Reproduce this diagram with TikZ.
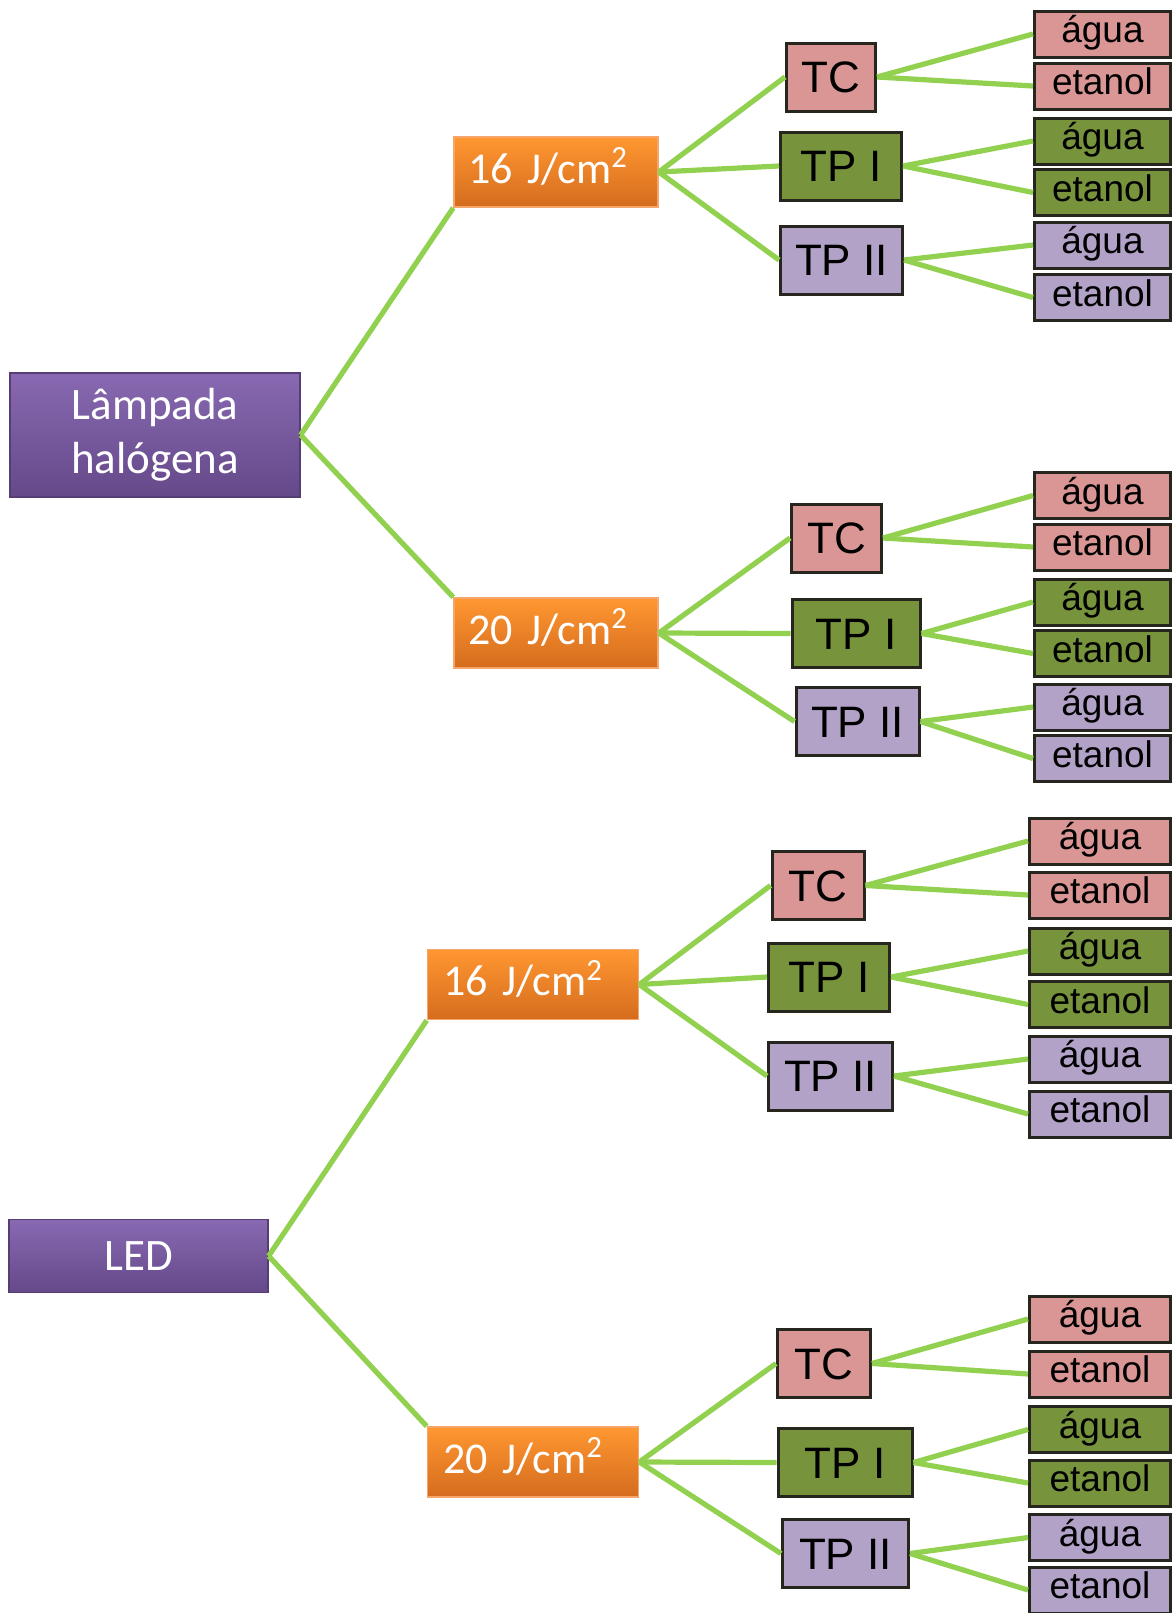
\documentclass[tikz,border=0pt]{standalone}
\usepackage{fontspec}
\setmainfont{Liberation Sans}
\newfontfamily\carlito{Carlito}
\usepackage{xcolor}
\usepackage{tikz}
\usetikzlibrary{positioning}
\definecolor{purpletop}{HTML}{8869B2}
\definecolor{purplebot}{HTML}{654989}
\definecolor{orangetop}{HTML}{FF9731}
\definecolor{orangebot}{HTML}{D56C1E}
\definecolor{orangeedge}{HTML}{F6A66A}
\definecolor{linkgreen}{HTML}{92D050}
\definecolor{boxedge}{HTML}{26261F}
\definecolor{tcpink}{HTML}{D99694}
\definecolor{tpgreen}{HTML}{77933C}
\definecolor{tplilac}{HTML}{B3A2C7}
\tikzstyle{link} = [draw=linkgreen, line width=2.6pt]
\tikzstyle{rootbox} = [rectangle, top color=purpletop, bottom color=purplebot,
draw=purplebot!85!black, line width=0.6pt, text=white, align=center, inner sep=0pt,
font=\carlito\fontsize{22.5}{27}\selectfont]
\tikzstyle{dosebox} = [rectangle, top color=orangetop, bottom color=orangebot,
draw=orangeedge, line width=0.8pt, text=white, inner sep=0pt, align=left,
minimum width=102pt, minimum height=35pt, text width=88pt, text height=13pt, text depth=2pt,
font=\carlito\fontsize{22}{25}\selectfont]
\tikzstyle{midbox} = [rectangle, draw=boxedge, line width=1.5pt, inner sep=0pt,
minimum height=34pt, text height=16.5pt, text depth=1pt, font=\fontsize{22}{26}\selectfont]
\tikzstyle{leafbox} = [rectangle, draw=boxedge, line width=1.5pt, inner sep=0pt,
minimum width=68pt, minimum height=23pt, text height=12.5pt, text depth=4pt,
font=\fontsize{18.5}{22}\selectfont]
\tikzstyle{tcbox} = [midbox, fill=tcpink]
\tikzstyle{tpibox} = [midbox, fill=tpgreen]
\tikzstyle{tpiibox} = [midbox, fill=tplilac]
\tikzstyle{tcleaf} = [leafbox, fill=tcpink]
\tikzstyle{tpileaf} = [leafbox, fill=tpgreen]
\tikzstyle{tpiileaf} = [leafbox, fill=tplilac]

\begin{document}
\begin{tikzpicture}[x=0.5pt, y=-0.5pt]
        \useasboundingbox (0,0) rectangle (1172,1613);

        \node[rootbox, minimum width=145pt, minimum height=62pt] (lamp) at (155,435) {Lâmpada\\halógena};
        \node[rootbox, minimum width=129.5pt, minimum height=36.5pt] (led) at (138.5,1256) {LED};

        \node[dosebox] (lamp16) at (556,172) {16 J/cm\textsuperscript{2}};
        \node[dosebox] (lamp20) at (556,633) {20 J/cm\textsuperscript{2}};
        \node[dosebox, minimum width=105.5pt, text width=90pt] (led16) at (533,984.5) {16 J/cm\textsuperscript{2}};
        \node[dosebox, minimum width=105.5pt, text width=90pt] (led20) at (533,1462) {20 J/cm\textsuperscript{2}};

        \node[tcbox, minimum width=44.5pt] (lamp16tc) at (831,77) {TC};
        \node[tpibox, minimum width=60.5pt] (lamp16tpi) at (841,166) {TP I};
        \node[tpiibox, minimum width=61pt] (lamp16tpii) at (841.5,260) {TP II};
        \node[tcbox, minimum width=45pt] (lamp20tc) at (836.5,538) {TC};
        \node[tpibox, minimum width=64pt] (lamp20tpi) at (856,633.5) {TP I};
        \node[tpiibox, minimum width=61.5pt] (lamp20tpii) at (857.5,721.5) {TP II};
        \node[tcbox, minimum width=46pt] (led16tc) at (818,885.5) {TC};
        \node[tpibox, minimum width=60.5pt] (led16tpi) at (829,977) {TP I};
        \node[tpiibox, minimum width=62pt] (led16tpii) at (830.5,1076) {TP II};
        \node[tcbox, minimum width=46.5pt] (led20tc) at (824,1363.5) {TC};
        \node[tpibox, minimum width=67pt] (led20tpi) at (845,1462.5) {TP I};
        \node[tpiibox, minimum width=63pt] (led20tpii) at (845.5,1553.5) {TP II};

        \node[tcleaf] (lamp16tcagua) at (1102.5,34) {água};
        \node[tcleaf] (lamp16tcetanol) at (1102.5,86) {etanol};
        \node[tpileaf] (lamp16tpiagua) at (1102.5,141) {água};
        \node[tpileaf] (lamp16tpietanol) at (1102.5,192.5) {etanol};
        \node[tpiileaf] (lamp16tpiiagua) at (1102.5,245) {água};
        \node[tpiileaf] (lamp16tpiietanol) at (1102.5,297.5) {etanol};

        \node[tcleaf] (lamp20tcagua) at (1102.5,495.5) {água};
        \node[tcleaf] (lamp20tcetanol) at (1102.5,547) {etanol};
        \node[tpileaf] (lamp20tpiagua) at (1102.5,602) {água};
        \node[tpileaf] (lamp20tpietanol) at (1102.5,653.5) {etanol};
        \node[tpiileaf] (lamp20tpiiagua) at (1102.5,707) {água};
        \node[tpiileaf] (lamp20tpiietanol) at (1102.5,758.5) {etanol};

        \node[tcleaf, minimum width=70.5pt] (led16tcagua) at (1100,841) {água};
        \node[tcleaf, minimum width=70.5pt] (led16tcetanol) at (1100,895) {etanol};
        \node[tpileaf, minimum width=70.5pt] (led16tpiagua) at (1100,951) {água};
        \node[tpileaf, minimum width=70.5pt] (led16tpietanol) at (1100,1004.5) {etanol};
        \node[tpiileaf, minimum width=70.5pt] (led16tpiiagua) at (1100,1059) {água};
        \node[tpiileaf, minimum width=70.5pt] (led16tpiietanol) at (1100,1114) {etanol};

        \node[tcleaf, minimum width=70.5pt] (led20tcagua) at (1100,1319) {água};
        \node[tcleaf, minimum width=70.5pt] (led20tcetanol) at (1100,1374) {etanol};
        \node[tpileaf, minimum width=70.5pt] (led20tpiagua) at (1100,1429.5) {água};
        \node[tpileaf, minimum width=70.5pt] (led20tpietanol) at (1100,1483) {etanol};
        \node[tpiileaf, minimum width=70.5pt] (led20tpiiagua) at (1100,1537.5) {água};
        \node[tpiileaf, minimum width=70.5pt] (led20tpiietanol) at (1100,1590) {etanol};

        \draw[link] (lamp.east) -- (lamp16.south west);
        \draw[link] (lamp.east) -- (lamp20.north west);
        \draw[link] (led.east) -- (led16.south west);
        \draw[link] (led.east) -- (led20.north west);

        \draw[link] (lamp16.east) -- (lamp16tc.west);
        \draw[link] (lamp16.east) -- (lamp16tpi.west);
        \draw[link] (lamp16.east) -- (lamp16tpii.west);
        \draw[link] (lamp20.east) -- (lamp20tc.west);
        \draw[link] (lamp20.east) -- (lamp20tpi.west);
        \draw[link] (lamp20.east) -- (lamp20tpii.west);
        \draw[link] (led16.east) -- (led16tc.west);
        \draw[link] (led16.east) -- (led16tpi.west);
        \draw[link] (led16.east) -- (led16tpii.west);
        \draw[link] (led20.east) -- (led20tc.west);
        \draw[link] (led20.east) -- (led20tpi.west);
        \draw[link] (led20.east) -- (led20tpii.west);

        \draw[link] (lamp16tc.east) -- (lamp16tcagua.west);
        \draw[link] (lamp16tc.east) -- (lamp16tcetanol.west);
        \draw[link] (lamp16tpi.east) -- (lamp16tpiagua.west);
        \draw[link] (lamp16tpi.east) -- (lamp16tpietanol.west);
        \draw[link] (lamp16tpii.east) -- (lamp16tpiiagua.west);
        \draw[link] (lamp16tpii.east) -- (lamp16tpiietanol.west);
        \draw[link] (lamp20tc.east) -- (lamp20tcagua.west);
        \draw[link] (lamp20tc.east) -- (lamp20tcetanol.west);
        \draw[link] (lamp20tpi.east) -- (lamp20tpiagua.west);
        \draw[link] (lamp20tpi.east) -- (lamp20tpietanol.west);
        \draw[link] (lamp20tpii.east) -- (lamp20tpiiagua.west);
        \draw[link] (lamp20tpii.east) -- (lamp20tpiietanol.west);
        \draw[link] (led16tc.east) -- (led16tcagua.west);
        \draw[link] (led16tc.east) -- (led16tcetanol.west);
        \draw[link] (led16tpi.east) -- (led16tpiagua.west);
        \draw[link] (led16tpi.east) -- (led16tpietanol.west);
        \draw[link] (led16tpii.east) -- (led16tpiiagua.west);
        \draw[link] (led16tpii.east) -- (led16tpiietanol.west);
        \draw[link] (led20tc.east) -- (led20tcagua.west);
        \draw[link] (led20tc.east) -- (led20tcetanol.west);
        \draw[link] (led20tpi.east) -- (led20tpiagua.west);
        \draw[link] (led20tpi.east) -- (led20tpietanol.west);
        \draw[link] (led20tpii.east) -- (led20tpiiagua.west);
        \draw[link] (led20tpii.east) -- (led20tpiietanol.west);
    \end{tikzpicture}
\end{document}
